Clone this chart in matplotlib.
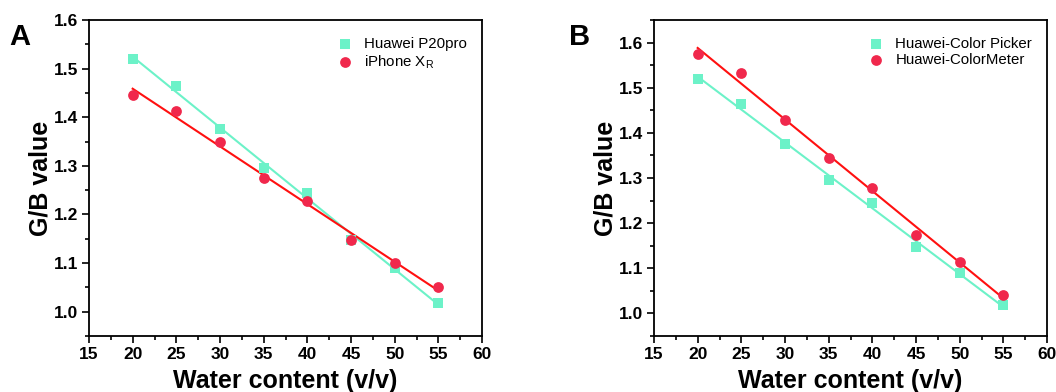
import numpy as np
import matplotlib
matplotlib.use("Agg")
import matplotlib.pyplot as plt
from matplotlib.ticker import MultipleLocator

plt.rcParams['font.family'] = ['Liberation Sans', 'DejaVu Sans']
plt.rcParams['mathtext.default'] = 'regular'

water = [20, 25, 30, 35, 40, 45, 50, 55]
huawei_p20 = [1.520, 1.465, 1.375, 1.295, 1.245, 1.148, 1.090, 1.018]
iphone_xr = [1.445, 1.413, 1.350, 1.275, 1.227, 1.148, 1.100, 1.050]
color_picker = [1.520, 1.465, 1.375, 1.295, 1.245, 1.148, 1.090, 1.018]
color_meter = [1.575, 1.532, 1.428, 1.345, 1.277, 1.174, 1.115, 1.041]

cyan = '#6cf2c8'
red_pt = '#f0284c'
red_ln = '#ff1010'


def draw_panel(ax, series, ylim):
    x = np.array(water)
    for vals, label, marker, mc, lc, sz in series:
        k, b = np.polyfit(x, vals, 1)
        ax.plot(x, k * x + b, color=lc, lw=1.5, zorder=2)
        ax.scatter(x, vals, marker=marker, s=sz, color=mc, label=label, zorder=3, linewidths=0)
    ax.set_xlim(15, 60)
    ax.set_ylim(*ylim)
    ax.xaxis.set_major_locator(MultipleLocator(5))
    ax.xaxis.set_minor_locator(MultipleLocator(2.5))
    ax.yaxis.set_major_locator(MultipleLocator(0.1))
    ax.yaxis.set_minor_locator(MultipleLocator(0.05))
    ax.tick_params(which='both', direction='out', top=False, right=False, width=1.2)
    ax.tick_params(which='major', length=5, labelsize=12.5, pad=3)
    ax.tick_params(which='minor', length=3)
    for lab in ax.get_xticklabels() + ax.get_yticklabels():
        lab.set_fontweight('bold')
    for sp in ax.spines.values():
        sp.set_linewidth(1.3)
    ax.set_xlabel('Water content (v/v)', fontsize=18, fontweight='bold', labelpad=5)
    ax.set_ylabel('G/B value', fontsize=18, fontweight='bold', labelpad=1)
    ax.legend(loc='upper right', frameon=False, fontsize=10.8, handletextpad=0.3,
              labelspacing=0.15, bbox_to_anchor=(0.985, 0.975), borderaxespad=0.2)


fig = plt.figure(figsize=(10.56, 3.92), dpi=100)
ax1 = fig.add_axes([89 / 1056, 1 - 336 / 392, 393 / 1056, 316 / 392])
ax2 = fig.add_axes([654 / 1056, 1 - 336 / 392, 393 / 1056, 316 / 392])

draw_panel(ax1, [(huawei_p20, 'Huawei P20pro', 's', cyan, cyan, 45),
                 (iphone_xr, 'iPhone X$_R$', 'o', red_pt, red_ln, 60)],
           (0.95, 1.6))
draw_panel(ax2, [(color_picker, 'Huawei-Color Picker', 's', cyan, cyan, 45),
                 (color_meter, 'Huawei-ColorMeter', 'o', red_pt, red_ln, 60)],
           (0.95, 1.65))

fig.text(9 / 1056, 1 - 23 / 392, 'A', fontsize=21, fontweight='bold', va='top', ha='left')
fig.text(569 / 1056, 1 - 23 / 392, 'B', fontsize=21, fontweight='bold', va='top', ha='left')

fig.savefig('out.png', dpi=100)
